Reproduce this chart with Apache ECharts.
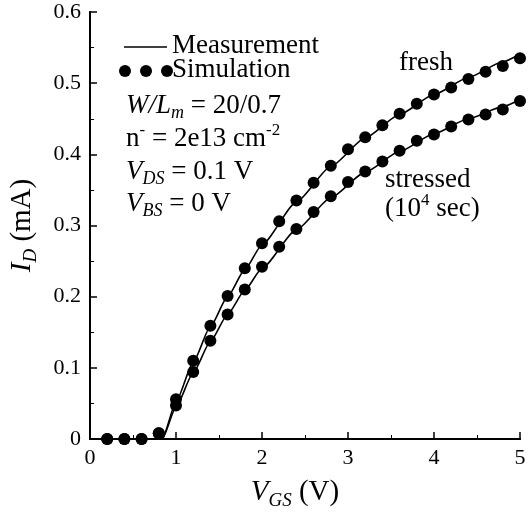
<!DOCTYPE html>
<html>
<head>
    <meta charset="utf-8">
    <title>ID-VGS</title>
    <script src="https://cdn.jsdelivr.net/npm/echarts@6/dist/echarts.min.js"></script>
    <style>
        html, body { margin: 0; padding: 0; background: #fff; }
    </style>
</head>
<body>
    <div id="main" style="width: 530px;height:515px;"></div>
    <script type="text/javascript">
        // simulation points (dots)
        var vgsSim = [0.2, 0.4, 0.6, 0.8, 1.0, 1.2, 1.4, 1.6, 1.8, 2.0, 2.2, 2.4, 2.6,
                      2.8, 3.0, 3.2, 3.4, 3.6, 3.8, 4.0, 4.2, 4.4, 4.6, 4.8, 5.0];
        var freshSim = [0, 0, 0, 0.008, 0.056, 0.110, 0.159, 0.201, 0.240, 0.275, 0.306, 0.335, 0.360,
                        0.384, 0.407, 0.424, 0.441, 0.457, 0.471, 0.484, 0.494, 0.506, 0.516, 0.524, 0.535];
        var stressedSim = [0, 0, 0, 0.008, 0.047, 0.094, 0.138, 0.175, 0.210, 0.242, 0.270, 0.295, 0.319,
                           0.341, 0.361, 0.376, 0.390, 0.405, 0.419, 0.428, 0.439, 0.449, 0.456, 0.463, 0.475];

        // measurement curves (solid lines)
        var vgsMeas = [0, 0.84, 1.0, 1.2, 1.4, 1.6, 1.8, 2.0, 2.4, 2.8, 3.2, 3.6, 4.0, 4.4, 4.8, 5.0];
        var freshMeas = [0, 0, 0.052, 0.108, 0.158, 0.200, 0.238, 0.273, 0.333, 0.383, 0.423, 0.456, 0.484, 0.508, 0.530, 0.541];
        var stressedMeas = [0, 0, 0.045, 0.093, 0.137, 0.175, 0.209, 0.240, 0.294, 0.339, 0.375, 0.404, 0.429, 0.450, 0.467, 0.477];

        var xTicks = [0, 1, 2, 3, 4, 5];
        var yTicks = [0, 0.1, 0.2, 0.3, 0.4, 0.5, 0.6];

        function pairs(xs, ys) {
            return xs.map(function (x, i) { return [x, ys[i]]; });
        }

        var FONT = '"Liberation Serif", "Times New Roman", serif';

        // rich text styles: normal, italic, subscript, superscript
        function richOf(size) {
            return {
                t: { fontSize: size, fontFamily: FONT, lineHeight: size + 6 },
                i: { fontSize: size, fontFamily: FONT, fontStyle: 'italic', lineHeight: size + 6 },
                s: { fontSize: Math.round(size * 0.66), fontFamily: FONT, fontStyle: 'italic',
                     verticalAlign: 'bottom', lineHeight: Math.round(size * 0.66) },
                p: { fontSize: Math.round(size * 0.62), fontFamily: FONT,
                     verticalAlign: 'top', lineHeight: Math.round(size * 0.62) }
            };
        }
        var richNote = richOf(27);
        var richName = richOf(29);

        var myChart = echarts.init(document.getElementById('main'));

        var axisCommon = {
            type: 'value',
            axisLine: { show: true, lineStyle: { color: '#000', width: 2 } },
            splitLine: { show: false },
            axisTick: { show: true, inside: true, length: 7, lineStyle: { color: '#000', width: 1.5 } },
            minorTick: { show: true, splitNumber: 2, length: 4, lineStyle: { color: '#000', width: 1 } },
            axisLabel: { color: '#000', fontSize: 22, fontFamily: FONT }
        };

        function textEl(x, y, str) {
            return {
                type: 'text', x: x, y: y,
                style: { text: str, rich: richNote, fill: '#000', font: '27px ' + FONT, verticalAlign: 'middle' }
            };
        }

        var option = {
            animation: false,
            backgroundColor: '#fff',
            grid: { left: 88, right: 10, top: 12, bottom: 73 },
            xAxis: [
                Object.assign({}, axisCommon, {
                    min: xTicks[0], max: xTicks[xTicks.length - 1], interval: 1,
                    name: '{i|V}{s|GS}{t| (V)}',
                    nameLocation: 'middle', nameGap: 36,
                    nameTextStyle: { rich: richName, padding: [0, 20, 0, 0] },
                    axisLabel: Object.assign({}, axisCommon.axisLabel, { margin: 8 })
                }),
                {
                    type: 'value', position: 'top', min: 0, max: 5,
                    axisLine: { show: true, lineStyle: { color: '#000', width: 2 } },
                    axisTick: { show: false }, axisLabel: { show: false }, splitLine: { show: false }
                }
            ],
            yAxis: [
                Object.assign({}, axisCommon, {
                    min: yTicks[0], max: yTicks[yTicks.length - 1], interval: 0.1,
                    name: '{i|I}{s|D}{t| (mA)}',
                    nameLocation: 'middle', nameGap: 50,
                    nameTextStyle: { rich: richName },
                    axisLabel: Object.assign({}, axisCommon.axisLabel, { margin: 9 })
                }),
                {
                    type: 'value', position: 'right', min: 0, max: 0.6,
                    axisLine: { show: true, lineStyle: { color: '#000', width: 2 } },
                    axisTick: { show: false }, axisLabel: { show: false }, splitLine: { show: false }
                }
            ],
            graphic: [
                // legend
                { type: 'line', shape: { x1: 124, y1: 47, x2: 167, y2: 47 }, style: { stroke: '#000', lineWidth: 1.5 } },
                textEl(172, 46, '{t|Measurement}'),
                { type: 'circle', shape: { cx: 125, cy: 71, r: 6 }, style: { fill: '#000' } },
                { type: 'circle', shape: { cx: 146, cy: 71, r: 6 }, style: { fill: '#000' } },
                { type: 'circle', shape: { cx: 167, cy: 71, r: 6 }, style: { fill: '#000' } },
                textEl(172, 70, '{t|Simulation}'),
                // device parameters
                textEl(126, 106, '{i|W/L}{s|m}{t| = 20/0.7}'),
                textEl(126, 139, '{t|n}{p|-}{t| = 2e13 cm}{p|-2}'),
                textEl(126, 172, '{i|V}{s|DS}{t| = 0.1 V}'),
                textEl(126, 204, '{i|V}{s|BS}{t| = 0 V}'),
                // curve labels
                textEl(399, 63, '{t|fresh}'),
                textEl(385, 180, '{t|stressed}'),
                textEl(385, 209, '{t|(10}{p|4}{t| sec)}')
            ],
            series: [
                {
                    name: 'fresh measurement', type: 'line', showSymbol: false,
                    smooth: 0.2, smoothMonotone: 'x',
                    lineStyle: { color: '#000', width: 1.6 },
                    data: pairs(vgsMeas, freshMeas)
                },
                {
                    name: 'stressed measurement', type: 'line', showSymbol: false,
                    smooth: 0.2, smoothMonotone: 'x',
                    lineStyle: { color: '#000', width: 1.6 },
                    data: pairs(vgsMeas, stressedMeas)
                },
                {
                    name: 'fresh simulation', type: 'scatter', symbol: 'circle', symbolSize: 12,
                    itemStyle: { color: '#000', opacity: 1 },
                    data: pairs(vgsSim, freshSim)
                },
                {
                    name: 'stressed simulation', type: 'scatter', symbol: 'circle', symbolSize: 12,
                    itemStyle: { color: '#000', opacity: 1 },
                    data: pairs(vgsSim, stressedSim)
                }
            ]
        };

        myChart.setOption(option);
    </script>
</body>
</html>
